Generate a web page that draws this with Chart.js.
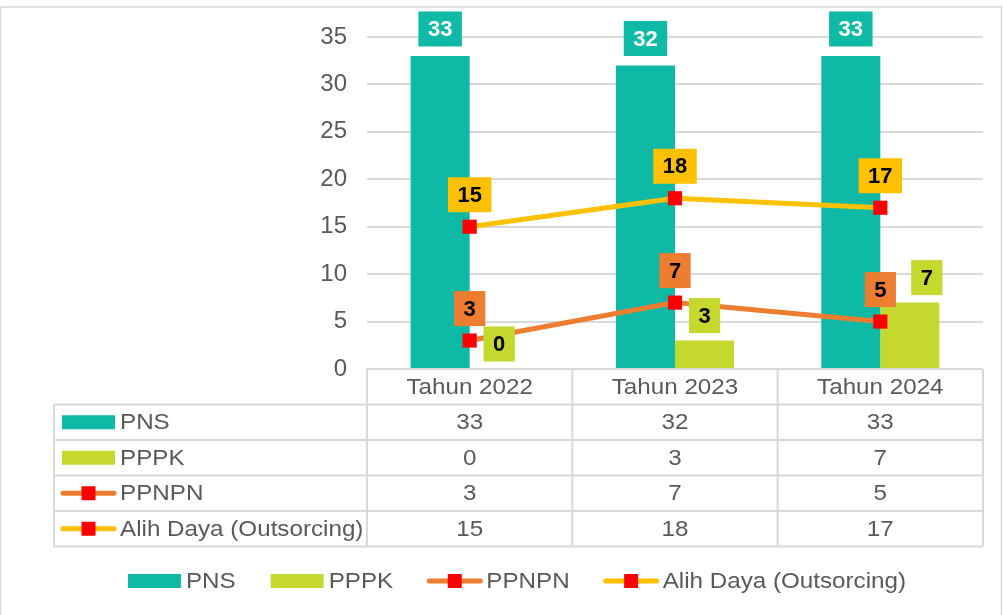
<!DOCTYPE html>
<html>
<head>
<meta charset="utf-8">
<script src="https://cdn.jsdelivr.net/npm/chart.js@4.4.1/dist/chart.umd.min.js"></script>
<style>
html, body { margin: 0; padding: 0; background: #fff; }
canvas { display: block; }
</style>
</head>
<body>
<canvas id="grafikPegawai" width="1003" height="615"></canvas>
<script>
const kategori = ['Tahun 2022', 'Tahun 2023', 'Tahun 2024'];
const namaSeri = ['PNS', 'PPPK', 'PPNPN', 'Alih Daya (Outsorcing)'];
const dataPns = [33, 32, 33];
const dataPppk = [0, 3, 7];
const dataPpnpn = [3, 7, 5];
const dataAlihDaya = [15, 18, 17];
const skalaY = [0, 35, 5]; // min, max, langkah

const FONT = "'Liberation Sans', Arial, sans-serif";
const ABU = '#595959';
const GARIS = '#D9D9D9';
const REGANG = 1.1; // teks di gambar asli sedikit melebar

// tulis teks yang direnggangkan mendatar
function tulis(ctx, teks, x, y, align) {
    const w = ctx.measureText(teks).width * REGANG;
    let x0 = x;
    if (align === 'center') x0 = x - w / 2;
    if (align === 'right') x0 = x - w;
    ctx.save();
    ctx.translate(x0, y);
    ctx.scale(REGANG, 1);
    ctx.textAlign = 'left';
    ctx.fillText(teks, 0, 0);
    ctx.restore();
    return w;
}

// kotak label di atas batang / titik
const labelKotak = {
    id: 'labelKotak',
    afterDatasetsDraw(chart) {
        const ctx = chart.ctx;
        ctx.save();
        ctx.font = 'bold 22px ' + FONT;
        ctx.textBaseline = 'middle';
        chart.data.datasets.forEach((ds, i) => {
            const meta = chart.getDatasetMeta(i);
            meta.data.forEach((el, j) => {
                const teks = String(ds.data[j]);
                const w = ctx.measureText(teks).width + 19;
                const h = 35;
                const cx = el.x + (ds.geserLabel ? ds.geserLabel[j] : 0);
                const cy = el.y - ds.jarakLabel;
                ctx.fillStyle = ds.warnaKotak;
                ctx.fillRect(cx - w / 2, cy - h / 2, w, h);
                ctx.fillStyle = ds.warnaTeks;
                ctx.textAlign = 'center';
                ctx.fillText(teks, cx, cy + 1);
            });
        });
        ctx.restore();
    }
};

function gambarKunci(ctx, ds, x, y, lebar) {
    if (ds.type === 'line') {
        ctx.strokeStyle = ds.borderColor;
        ctx.lineWidth = 5;
        ctx.lineCap = 'round';
        ctx.beginPath();
        ctx.moveTo(x + 3, y);
        ctx.lineTo(x + lebar - 3, y);
        ctx.stroke();
        ctx.fillStyle = '#FF0000';
        ctx.fillRect(x + lebar / 2 - 7, y - 7, 14, 14);
    } else {
        ctx.fillStyle = ds.backgroundColor;
        ctx.fillRect(x + 2, y - 7, lebar - 4, 14);
    }
}

// tabel data + legenda bawah
const tabelData = {
    id: 'tabelData',
    afterDraw(chart) {
        const ctx = chart.ctx;
        const area = chart.chartArea;
        const sx = chart.scales.x;
        const lebarKol = (area.right - area.left) / kategori.length;
        const tinggiBaris = 35.5;
        const kiriTabel = 54;
        const atas = area.bottom;
        const jumlah = chart.data.datasets.length;
        const bawah = atas + tinggiBaris * (jumlah + 1);

        ctx.save();
        ctx.strokeStyle = GARIS;
        ctx.lineWidth = 2;
        ctx.beginPath();
        ctx.moveTo(area.left, atas);
        ctx.lineTo(area.right, atas);
        for (let r = 1; r <= jumlah + 1; r++) {
            ctx.moveTo(kiriTabel, atas + r * tinggiBaris);
            ctx.lineTo(area.right, atas + r * tinggiBaris);
        }
        for (let c = 0; c <= kategori.length; c++) {
            ctx.moveTo(area.left + c * lebarKol, atas);
            ctx.lineTo(area.left + c * lebarKol, bawah);
        }
        ctx.moveTo(kiriTabel, atas + tinggiBaris);
        ctx.lineTo(kiriTabel, bawah);
        ctx.stroke();

        ctx.font = '22px ' + FONT;
        ctx.fillStyle = ABU;
        ctx.textBaseline = 'middle';
        kategori.forEach((k, j) => {
            tulis(ctx, k, sx.getPixelForValue(j), atas + tinggiBaris / 2 + 1, 'center');
        });

        chart.data.datasets.forEach((ds, i) => {
            const cy = atas + tinggiBaris * (i + 1.5);
            gambarKunci(ctx, ds, 60, cy, 57);
            ctx.fillStyle = ABU;
            tulis(ctx, ds.label, 120, cy + 1, 'left');
            ds.data.forEach((v, j) => {
                tulis(ctx, String(v), sx.getPixelForValue(j), cy + 1, 'center');
            });
        });

        // legenda
        const ly = 581;
        const kunci = 57;
        const jarak = 33;
        const lebarItem = chart.data.datasets.map(ds => kunci + 3 + ctx.measureText(ds.label).width * REGANG);
        const total = lebarItem.reduce((a, b) => a + b, 0) + jarak * (lebarItem.length - 1);
        let x = 516 - total / 2;
        chart.data.datasets.forEach((ds, i) => {
            gambarKunci(ctx, ds, x, ly, kunci);
            ctx.fillStyle = ABU;
            tulis(ctx, ds.label, x + kunci + 3, ly + 1, 'left');
            x += lebarItem[i] + jarak;
        });

        // bingkai
        ctx.strokeStyle = GARIS;
        ctx.lineWidth = 1.5;
        ctx.strokeRect(0.5, 7, 1001, 620);
        ctx.restore();
    }
};

new Chart(document.getElementById('grafikPegawai'), {
    data: {
        labels: kategori,
        datasets: [
            {
                type: 'bar', label: namaSeri[0], data: dataPns, order: 2,
                backgroundColor: '#0EBAA5',
                categoryPercentage: 0.575, barPercentage: 1,
                warnaKotak: '#0EBAA5', warnaTeks: '#FFFFFF', jarakLabel: 27
            },
            {
                type: 'bar', label: namaSeri[1], data: dataPppk, order: 2,
                backgroundColor: '#C5D82E',
                categoryPercentage: 0.575, barPercentage: 1,
                warnaKotak: '#C5D82E', warnaTeks: '#000000', jarakLabel: 25,
                geserLabel: [0, 0, 17]
            },
            {
                type: 'line', label: namaSeri[2], data: dataPpnpn, order: 1,
                borderColor: '#ED7D31', borderWidth: 5,
                pointStyle: 'rect', pointRadius: 10,
                pointBackgroundColor: '#FF0000', pointBorderColor: '#FF0000', pointBorderWidth: 0,
                warnaKotak: '#ED7D31', warnaTeks: '#000000', jarakLabel: 32
            },
            {
                type: 'line', label: namaSeri[3], data: dataAlihDaya, order: 1,
                borderColor: '#FFC000', borderWidth: 5,
                pointStyle: 'rect', pointRadius: 10,
                pointBackgroundColor: '#FF0000', pointBorderColor: '#FF0000', pointBorderWidth: 0,
                warnaKotak: '#FFC000', warnaTeks: '#000000', jarakLabel: 32
            }
        ]
    },
    options: {
        responsive: false,
        devicePixelRatio: 1,
        animation: false,
        layout: { padding: { top: 37, right: 20, bottom: 246, left: 0 } },
        plugins: {
            legend: { display: false },
            tooltip: { enabled: false }
        },
        scales: {
            x: { display: false, offset: true },
            y: {
                min: skalaY[0],
                max: skalaY[1],
                border: { display: false },
                grid: { color: GARIS, lineWidth: 2, drawTicks: false },
                ticks: {
                    stepSize: skalaY[2],
                    padding: 20,
                    color: ABU,
                    font: { size: 24, family: FONT }
                },
                afterFit: scale => { scale.width = 367; }
            }
        }
    },
    plugins: [labelKotak, tabelData]
});
</script>
</body>
</html>
